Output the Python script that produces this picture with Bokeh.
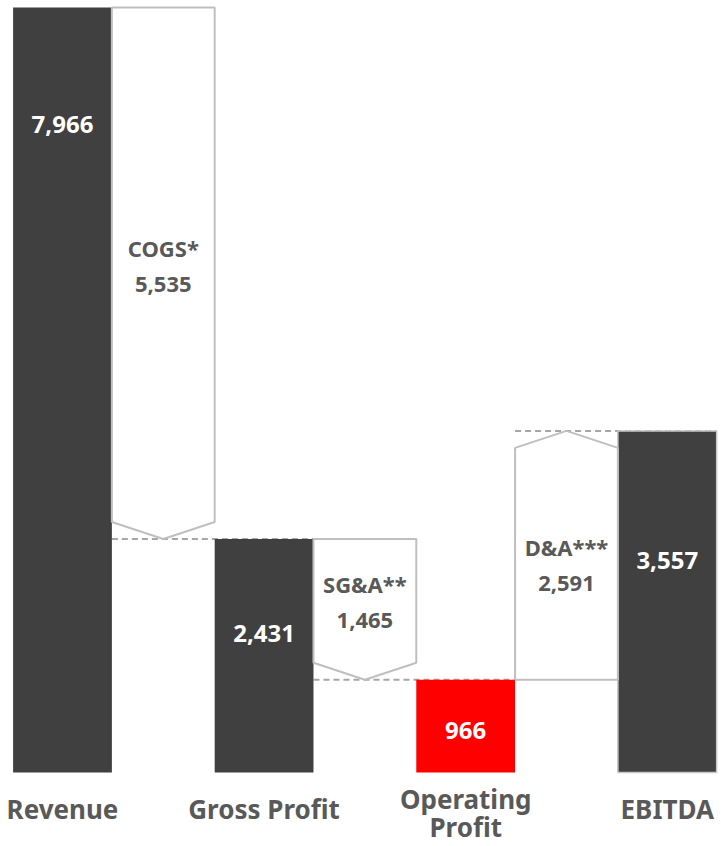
from bokeh.plotting import figure
from bokeh.models import Range1d, ColumnDataSource
from bokeh.core.properties import value
from bokeh.embed import file_html
from bokeh.resources import INLINE

# --- data -------------------------------------------------------------
categories = [["Revenue"], ["Gross Profit"], ["Operating", "Profit"], ["EBITDA"]]
totals = [7966, 2431, 966, 3557]
total_pos = [0, 2, 4, 6]
total_colors = ["#404040", "#404040", "#ff0000", "#404040"]

step_names = ["COGS*", "SG&A**", "D&A***"]
step_values = [-5535, -1465, 2591]
step_start = [7966, 2431, 966]
step_pos = [1, 3, 5]

# --- styling / layout -------------------------------------------------
FONT = "Noto Sans"
DARK_TEXT = "#595959"
OUTLINE = "#bfbfbf"
PX_PER_UNIT = 765 / 7966        # vertical scale
HEAD = 17 / PX_PER_UNIT         # arrow head height in value units
BAR_W = 0.98
ARROW_W = 1.02
# label anchor as a fraction of bar height
total_label_frac = [0.847, 0.595, 0.45, 0.62]

p = figure(width=721, height=846, output_backend="svg", toolbar_location=None,
           x_range=Range1d(-0.615, 6.538), y_range=Range1d(-771, 8039),
           min_border=0, min_border_left=0, min_border_right=0,
           min_border_top=0, min_border_bottom=0)
p.axis.visible = False
p.grid.visible = False
p.outline_line_color = None
p.background_fill_color = "white"
p.border_fill_color = "white"

# connectors between steps (drawn first, beneath shapes)
for sp, s0, dv in zip(step_pos, step_start, step_values):
    end = s0 + dv
    x0, x1 = sp - ARROW_W / 2, sp + 1 + BAR_W / 2
    p.line([x0, x1], [end, end], line_color="#a6a6a6", line_width=2,
           line_dash="6 4")

# total bars
src = ColumnDataSource(dict(x=total_pos, top=totals, color=total_colors))
p.vbar(x="x", top="top", bottom=0, width=BAR_W, source=src,
       fill_color="color", line_color=None)
# light frame on the last total
p.vbar(x=[total_pos[-1]], top=[totals[-1]], bottom=0, width=BAR_W,
       fill_color=None, line_color="#c8c8c8", line_width=1.5)

# step arrows
xs, ys = [], []
for sp, s0, dv in zip(step_pos, step_start, step_values):
    end = s0 + dv
    l, r = sp - ARROW_W / 2, sp + ARROW_W / 2
    body_end = end + HEAD if dv < 0 else end - HEAD
    xs.append([l, r, r, sp, l])
    ys.append([s0, s0, body_end, end, body_end])
p.patches(xs, ys, fill_color="white", line_color=OUTLINE, line_width=2)

# step labels (name + value), centred in the body of each arrow
for sp, s0, dv, nm in zip(step_pos, step_start, step_values, step_names):
    end = s0 + dv
    body_end = end + HEAD if dv < 0 else end - HEAD
    mid = (s0 + body_end) / 2
    p.text(x=[sp], y=[mid], text=[nm], y_offset=-17,
           text_align="center", text_baseline="middle",
           text_font=value(FONT), text_font_style="bold",
           text_font_size="22px", text_color=DARK_TEXT)
    p.text(x=[sp], y=[mid], text=[f"{abs(dv):,}"], y_offset=20,
           text_align="center", text_baseline="middle",
           text_font=value(FONT), text_font_style="bold",
           text_font_size="22px", text_color=DARK_TEXT)

# values inside total bars
for xp, t, f in zip(total_pos, totals, total_label_frac):
    p.text(x=[xp], y=[t * f], text=[f"{t:,}"],
           text_align="center", text_baseline="middle",
           text_font=value(FONT), text_font_style="bold",
           text_font_size="24px", text_color="white")

# category labels under the bars (one or two lines)
for xp, lines in zip(total_pos, categories):
    offsets = [37] if len(lines) == 1 else [27, 55]
    for line, off in zip(lines, offsets):
        p.text(x=[xp], y=[0], text=[line], y_offset=off,
               text_align="center", text_baseline="middle",
               text_font=value(FONT), text_font_style="bold",
               text_font_size="26px", text_color=DARK_TEXT)

open("out.html", "w").write(file_html(p, INLINE))
